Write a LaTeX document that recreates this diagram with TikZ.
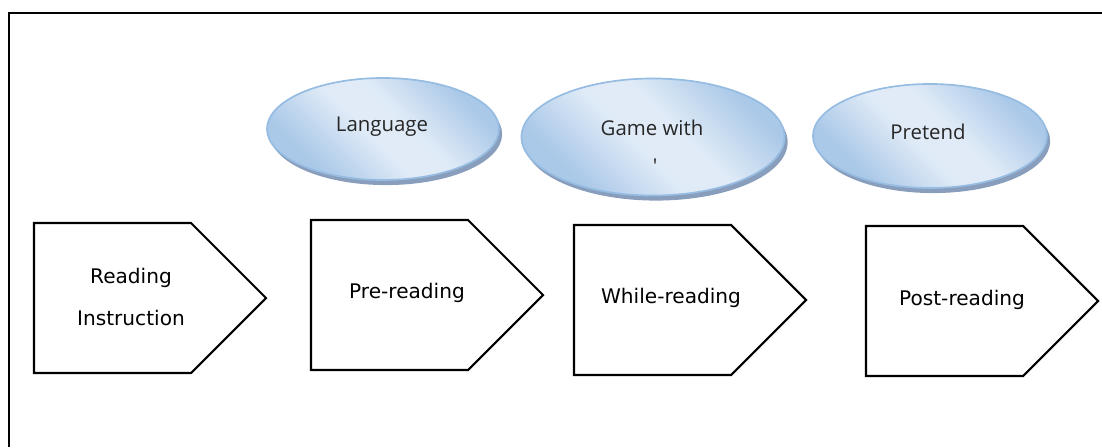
\documentclass[tikz,border=0pt]{standalone}
\usepackage{fontspec}
\setmainfont{Open Sans}
\newfontfamily\stagefont{DejaVu Sans}
\usetikzlibrary{shapes.geometric, shadows}
\definecolor{bubbleline}{RGB}{150,188,226}
\definecolor{bubblelight}{RGB}{224,235,247}
\definecolor{bubbledark}{RGB}{170,200,232}
\definecolor{bubbleshadow}{RGB}{136,158,188}
\pgfdeclarehorizontalshading{bubbleglow}{100bp}{color(0bp)=(bubbledark); color(28bp)=(bubbledark); color(46bp)=(bubblelight); color(56bp)=(bubblelight); color(74bp)=(bubbledark); color(100bp)=(bubbledark)}

\begin{document}
\begin{tikzpicture}[
  x=0.025cm, y=-0.025cm,
  every node/.style={font=\fontsize{14.5}{17}\selectfont},
  frame/.style={line width=1.6pt},
  stage/.style={draw=black, line width=1.5pt, line join=miter},
  stagetext/.style={font=\stagefont\fontsize{14.3}{17}\selectfont, align=center, inner sep=0pt},
  bubble/.style={ellipse, draw=bubbleline, line width=1.2pt, shading=bubbleglow, shading angle=45,
    general shadow={fill=bubbleshadow, shadow xshift=2.2pt, shadow yshift=-3.6pt}},
  bubbletext/.style={inner sep=0pt, text=black!85}
]
  \useasboundingbox (0,0) rectangle (1102,447);
  \draw[frame] (9,447) -- (9,13) -- (1102,13);

  % Stufen
  \foreach \x/\y in {34/223, 311/220, 574/225, 866/226}
    \draw[stage] (\x,\y) -- ++(157,0) -- ++(75,75) -- ++(-75,75) -- ++(-157,0) -- cycle;

  \node[stagetext] (instr) at (131,297) {Reading\\[13pt]Instruction};
  \node[stagetext] (pre) at (407,293) {Pre-reading};
  \node[stagetext] (while) at (671,298) {While-reading};
  \node[stagetext] (post) at (962,300) {Post-reading};

  % Ellipsen
  \node[bubble, minimum width=5.8cm, minimum height=2.55cm] (lang) at (383,129) {};
  \node[bubbletext] (langtext) at (382,127) {Language};
  \node[bubble, minimum width=6.575cm, minimum height=2.925cm] (game) at (653,137) {};
  \node[bubbletext] (gametext) at (652,128) {Game with};
  \node[bubbletext] (gametick) at (655,166) {\textquotesingle};
  \node[bubble, minimum width=5.85cm, minimum height=2.6cm] (pret) at (930,136) {};
  \node[bubbletext] (prettext) at (928,132) {Pretend};
\end{tikzpicture}
\end{document}
